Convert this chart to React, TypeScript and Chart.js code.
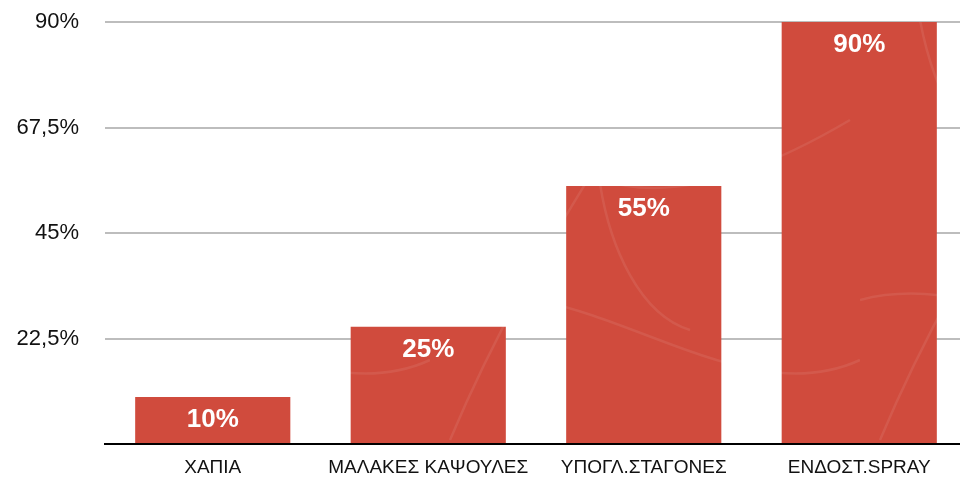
import React, { useEffect, useRef } from "react";
import { Chart, registerables } from "chart.js";

Chart.register(...registerables);

const categories = ["ΧΑΠΙΑ", "ΜΑΛΑΚΕΣ ΚΑΨΟΥΛΕΣ", "ΥΠΟΓΛ.ΣΤΑΓΟΝΕΣ", "ΕΝΔΟΣΤ.SPRAY"];
const values = [10, 25, 55, 90];
const yTicks = [0, 22.5, 45, 67.5, 90];

const FONT = "'Liberation Sans', Arial, Helvetica, sans-serif";
const BAR_RED = "#D04B3D";

function makePattern(): CanvasPattern | string {
  const c = document.createElement("canvas");
  c.width = 430;
  c.height = 460;
  const g = c.getContext("2d");
  if (!g) return BAR_RED;
  g.fillStyle = BAR_RED;
  g.fillRect(0, 0, c.width, c.height);
  g.strokeStyle = "rgba(255,255,255,0.08)";
  g.lineWidth = 2.5;
  g.beginPath();
  g.moveTo(20, 440);
  g.bezierCurveTo(120, 200, 260, 60, 200, 60);
  g.bezierCurveTo(140, 60, 160, 300, 260, 330);
  g.stroke();
  g.beginPath();
  g.moveTo(60, 20);
  g.bezierCurveTo(90, 180, 200, 250, 420, 120);
  g.stroke();
  g.beginPath();
  g.moveTo(0, 300);
  g.bezierCurveTo(150, 260, 300, 420, 430, 360);
  g.stroke();
  g.beginPath();
  g.moveTo(300, 0);
  g.bezierCurveTo(260, 120, 380, 200, 330, 460);
  g.stroke();
  const p = g.createPattern(c, "repeat");
  return p || BAR_RED;
}

const valueLabels = {
  id: "valueLabels",
  afterDatasetsDraw(chart: any) {
    const ctx = chart.ctx;
    const meta = chart.getDatasetMeta(0);
    ctx.save();
    ctx.fillStyle = "#ffffff";
    ctx.font = `bold 26px ${FONT}`;
    ctx.textAlign = "center";
    ctx.textBaseline = "middle";
    meta.data.forEach((bar: any, i: number) => {
      ctx.fillText(`${values[i]}%`, bar.x, bar.y + 23);
    });
    ctx.restore();
  },
};

export default function App() {
  const ref = useRef<HTMLCanvasElement | null>(null);

  useEffect(() => {
    if (!ref.current) return;
    const chart = new Chart(ref.current, {
      type: "bar",
      data: {
        labels: categories,
        datasets: [
          {
            data: values,
            backgroundColor: makePattern() as any,
            borderWidth: 0,
            barPercentage: 0.72,
            categoryPercentage: 1,
          },
        ],
      },
      options: {
        responsive: false,
        animation: false,
        events: [],
        layout: { padding: { top: 22, left: 0, right: 0, bottom: 0 } },
        plugins: {
          legend: { display: false },
          tooltip: { enabled: false },
          title: { display: false },
        },
        scales: {
          x: {
            offset: true,
            grid: { display: false, drawTicks: false },
            border: { display: true, color: "#000000", width: 2 },
            ticks: {
              color: "#111111",
              font: { family: FONT, size: 19 },
              padding: 12,
              maxRotation: 0,
              autoSkip: false,
            },
            afterFit(scale: any) {
              scale.height = 33;
            },
          },
          y: {
            min: 0,
            max: 90,
            afterBuildTicks(scale: any) {
              scale.ticks = yTicks.map((v) => ({ value: v }));
            },
            grid: {
              drawTicks: true,
              tickLength: 26,
              tickColor: "rgba(0,0,0,0)",
              color: (c: any) => (c.tick && c.tick.value === 0 ? "rgba(0,0,0,0)" : "#BDBDBD"),
              lineWidth: 2,
            },
            border: { display: false },
            ticks: {
              color: "#111111",
              font: { family: FONT, size: 22 },
              padding: 0,
              callback: (v: any) =>
                Number(v) === 0 ? "" : `${String(v).replace(".", ",")}%`,
            },
            afterFit(scale: any) {
              scale.width = 105;
            },
          },
        },
      },
      plugins: [valueLabels],
    });
    return () => chart.destroy();
  }, []);

  return (
    <div
      style={{
        position: "fixed",
        left: 0,
        top: 0,
        width: 960,
        height: 477,
        overflow: "hidden",
        background: "#ffffff",
      }}
    >
      <canvas ref={ref} width={967} height={477} style={{ display: "block" }} />
    </div>
  );
}
